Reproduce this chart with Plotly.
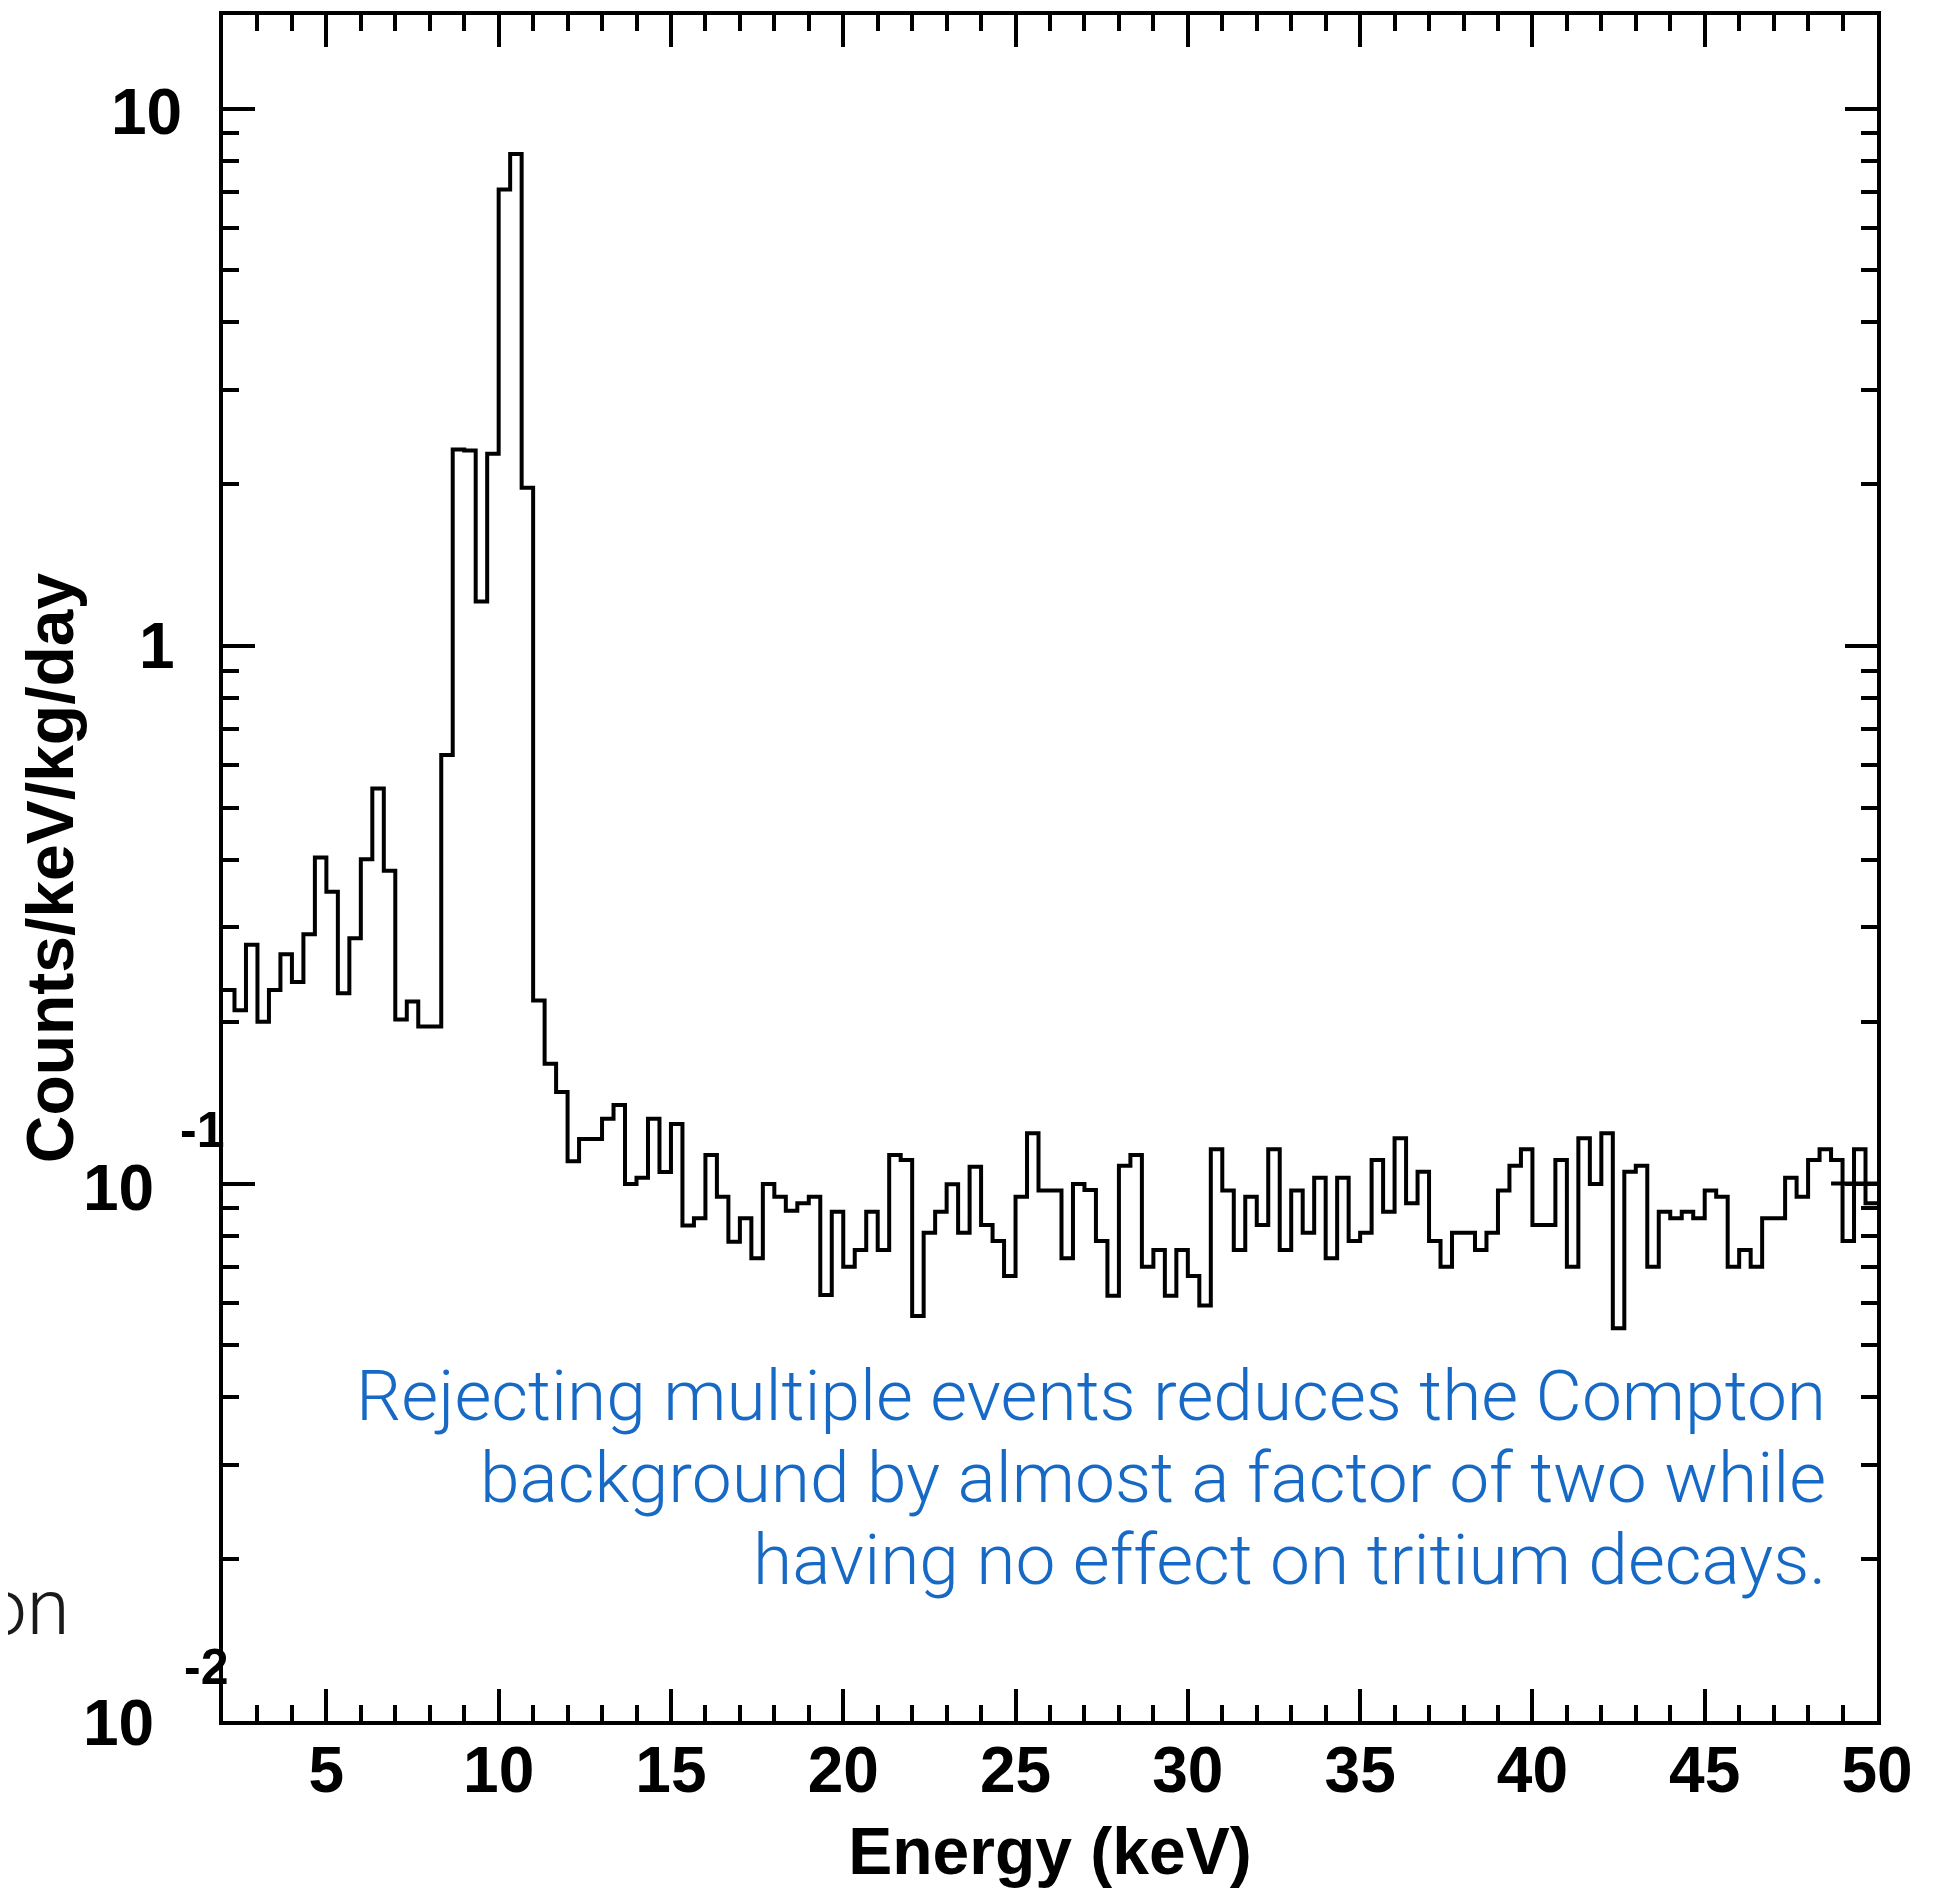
import plotly.graph_objects as go

# ---------------- data ----------------
e_min = 2.0          # keV, lower edge of first bin
bin_width = 1.0 / 3  # keV
counts = [
    0.229, 0.210, 0.278, 0.200, 0.229, 0.267, 0.237, 0.291, 0.404, 0.349,
    0.226, 0.286, 0.401, 0.543, 0.382, 0.202, 0.218, 0.196, 0.196, 0.627,
    2.32, 2.31, 1.21, 2.28, 7.07, 8.23, 1.97, 0.219, 0.167, 0.148,
    0.110, 0.121, 0.121, 0.132, 0.140, 0.0998, 0.1025, 0.132, 0.105, 0.129,
    0.0835, 0.0862, 0.113, 0.0945, 0.0779, 0.0862, 0.0726, 0.0998, 0.0945, 0.089,
    0.0919, 0.0945, 0.062, 0.0886, 0.070, 0.0752, 0.0886, 0.0752, 0.113, 0.1106,
    0.0567, 0.081, 0.0886, 0.0997, 0.081, 0.1075, 0.0837, 0.0782, 0.0673, 0.0945,
    0.124, 0.097, 0.097, 0.0726, 0.0998, 0.0973, 0.0782, 0.0618, 0.1079, 0.113,
    0.070, 0.0752, 0.0618, 0.0752, 0.0673, 0.0593, 0.1158, 0.097, 0.0752, 0.0945,
    0.0837, 0.1158, 0.0752, 0.097, 0.081, 0.1025, 0.0726, 0.1025, 0.0782, 0.081,
    0.1106, 0.0886, 0.1214, 0.0919, 0.1052, 0.0782, 0.070, 0.081, 0.081, 0.0752,
    0.081, 0.097, 0.1079, 0.1158, 0.0837, 0.0837, 0.1106, 0.070, 0.1214, 0.0998,
    0.124, 0.0538, 0.1052, 0.1079, 0.070, 0.0886, 0.0862, 0.0886, 0.0862, 0.097,
    0.0945, 0.070, 0.0752, 0.070, 0.0862, 0.0862, 0.1025, 0.0945, 0.1106, 0.1158,
    0.1106, 0.0782, 0.1158, 0.0919,
]
ref_x = [48.667, 50.0]
ref_y = [0.1, 0.1]

x_tick_vals = [5, 10, 15, 20, 25, 30, 35, 40, 45, 50]
x_tick_text = ["5", "10", "15", "20", "25", "30", "35", "40", "45", "50"]
y_decades = [0.01, 0.1, 1, 10]
y_minor = [m * d for d in [0.01, 0.1, 1] for m in range(2, 10)]

note_lines = [
    "Rejecting multiple events reduces the Compton",
    "background by almost a factor of two while",
    "having no effect on tritium decays.",
]

# ---------------- figure ----------------
edges = [e_min + i * bin_width for i in range(len(counts) + 1)]
step_y = counts + [counts[-1]]

# the page body has an 8 px margin: shrink the figure and shift margins to compensate
OFF = 8
W, H = 1933 - OFF, 1888 - OFF
L, R, T, B = 223 - OFF, 56, 15 - OFF, 167
pw, ph = W - L - R, H - T - B

fig = go.Figure()
fig.add_trace(go.Scatter(x=edges, y=step_y, mode="lines",
                         line=dict(shape="hv", color="black", width=4),
                         showlegend=False, hoverinfo="skip"))
fig.add_trace(go.Scatter(x=ref_x, y=ref_y, mode="lines",
                         line=dict(color="black", width=4),
                         showlegend=False, hoverinfo="skip"))

tickf = dict(family="Liberation Sans", size=64, color="black", weight="bold")
titlef = dict(family="Liberation Sans", size=66, color="black", weight="bold")

fig.update_layout(
    width=W, height=H,
    margin=dict(l=L, r=R, t=T, b=B, autoexpand=False),
    paper_bgcolor="white", plot_bgcolor="white",
    font=dict(family="Liberation Sans", color="black"),
    xaxis=dict(
        range=[2, 50], showgrid=False, zeroline=False,
        showline=True, linecolor="black", linewidth=4, mirror="ticks",
        tickmode="array", tickvals=x_tick_vals, ticktext=x_tick_text,
        ticks="inside", ticklen=32, tickwidth=4, tickcolor="black",
        tickfont=tickf, ticklabelstandoff=-10,
        minor=dict(dtick=1, tick0=0, ticks="inside", ticklen=16, tickwidth=4,
                   tickcolor="black", showgrid=False),
        title=dict(text="Energy (keV)", font=titlef, standoff=30),
        automargin=False,
    ),
    yaxis=dict(
        type="log", range=[-2, 1.174], showgrid=False, zeroline=False,
        showline=True, linecolor="black", linewidth=4, mirror="ticks",
        tickmode="array", tickvals=y_decades, showticklabels=False,
        ticks="inside", ticklen=32, tickwidth=4, tickcolor="black",
        minor=dict(tickmode="array", tickvals=y_minor, ticks="inside", ticklen=16,
                   tickwidth=4, tickcolor="black", showgrid=False),
        title=dict(text="Counts/keV/kg/day", font=titlef, standoff=125),
        automargin=False,
    ),
)

# y tick labels (mantissa + offset exponent as in the original); positions in target px
ylabels = [
    # text, log10(value), right edge px, yshift, size
    ("10", 1, 184, -3, 64),
    ("1", 0, 177, 0, 64),
    ("10", -1, 156, -4, 64),
    ("-1", -1, 226, 54, 50),
    ("10", -2, 156, -2, 64),
    ("-2", -2, 230, 54, 50),
]
for txt, ly, right_px, ysh, sz in ylabels:
    fig.add_annotation(text=txt, xref="paper", yref="y", x=(right_px - 223) / pw, y=ly,
                       xanchor="right", yanchor="middle", yshift=ysh, showarrow=False,
                       font=dict(family="Liberation Sans", size=sz, color="black", weight="bold"))

note_font = dict(family="Roboto", size=71.3, color="#1769c6", weight=300)
for i, line in enumerate(note_lines):
    baseline_px = 1423 + i * 82
    fig.add_annotation(text=line, xref="paper", yref="paper",
                       x=(1828 - 223) / pw, y=(1721 - (baseline_px + 16)) / ph,
                       xanchor="right", yanchor="bottom", showarrow=False,
                       font=note_font, align="right")

# fragment of neighbouring slide text at the left edge
fig.add_annotation(text="on", xref="paper", yref="paper",
                   x=(72 - 223) / pw, y=(1721 - 1655) / ph,
                   xanchor="right", yanchor="bottom", showarrow=False,
                   font=dict(family="Roboto", size=78, color="#1a1a1a", weight=300))

fig.write_html("out.html")
